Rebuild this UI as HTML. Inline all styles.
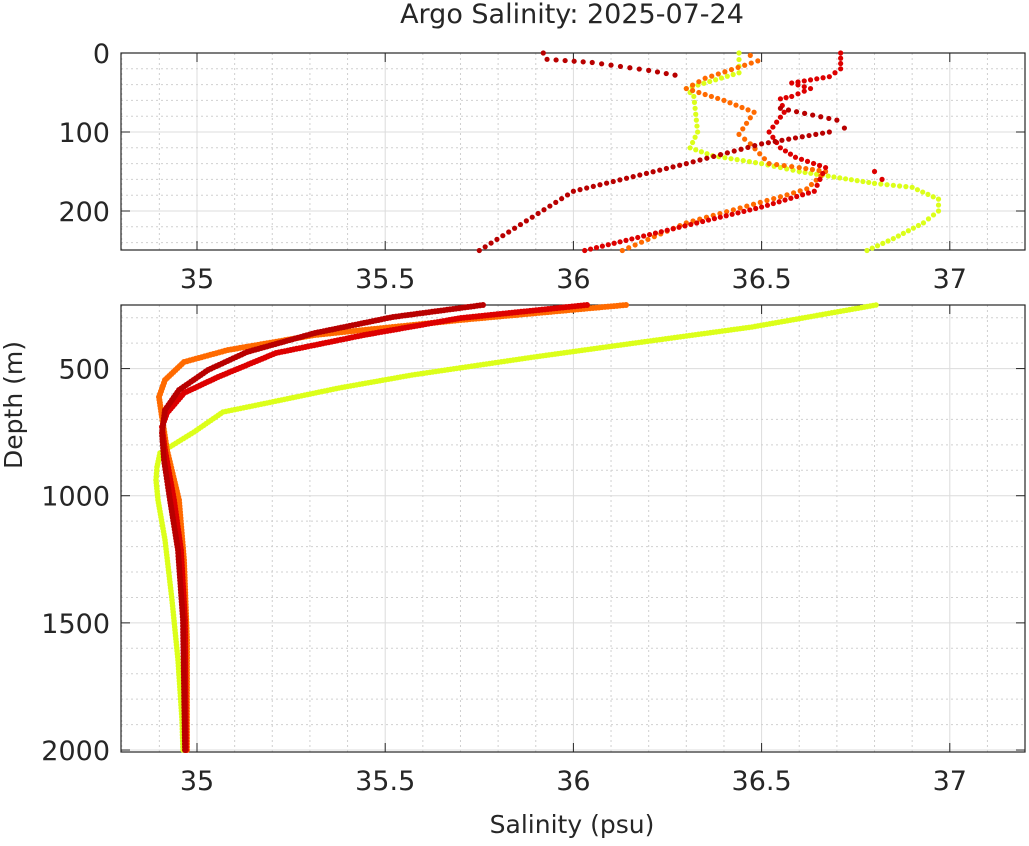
<!DOCTYPE html>
<html><head><meta charset="utf-8"><style>
body{margin:0;background:#fff}
svg text{font-family:"DejaVu Sans","Liberation Sans",sans-serif;fill:#262626}
</style></head><body>
<svg id="s" width="1029" height="841" xmlns="http://www.w3.org/2000/svg">
<text x="572" y="23" font-size="27" text-anchor="middle">Argo Salinity: 2025-07-24</text>
<text x="572" y="833" font-size="25" text-anchor="middle">Salinity (psu)</text>
<text transform="translate(22,405) rotate(-90)" font-size="25" text-anchor="middle">Depth (m)</text>
<g id="g"></g>
</svg>
<script>
const NS="http://www.w3.org/2000/svg",g=document.getElementById('g');
function el(t,a){const e=document.createElementNS(NS,t);for(const k in a)e.setAttribute(k,a[k]);g.appendChild(e);return e;}
const X=s=>197+(s-35)*376.4;
const L=121,R=1025;
const P1={t:53,b:250,y:d=>53+d*0.79,d0:0,d1:250};
const P2={t:305,b:752,y:d=>305+(d-250)*0.2543,d0:250,d1:2008};
function frame(P,maj,min,labels){
 for(let s=34.8;s<=37.21;s+=0.1){const x=X(s);const m=Math.abs(s*2-Math.round(s*2))<1e-6;
  el('line',{x1:x,x2:x,y1:P.t,y2:P.b,stroke:m?'#dcdcdc':'#d0d0d0','stroke-dasharray':m?'':'2,3','stroke-width':1});}
 for(let d=Math.ceil(P.d0/min)*min;d<=P.d1;d+=min){const y=P.y(d);const m=d%maj==0;
  el('line',{x1:L,x2:R,y1:y,y2:y,stroke:m?'#dcdcdc':'#d0d0d0','stroke-dasharray':m?'':'2,3','stroke-width':1});}
 el('rect',{x:L,y:P.t,width:R-L,height:P.b-P.t,fill:'none',stroke:'#262626','stroke-width':1.2});
 for(const s of [35,35.5,36,36.5,37]){const x=X(s);
  el('line',{x1:x,x2:x,y1:P.b,y2:P.b-9,stroke:'#262626'});el('line',{x1:x,x2:x,y1:P.t,y2:P.t+9,stroke:'#262626'});
  const t=el('text',{x:x,y:P.b+38,'font-size':27,'text-anchor':'middle'});t.textContent=s;}
 for(const d of labels){const y=P.y(d);el('line',{x1:L,x2:L+9,y1:y,y2:y,stroke:'#262626'});el('line',{x1:R,x2:R-9,y1:y,y2:y,stroke:'#262626'});
  const t=el('text',{x:L-11,y:y+10,'font-size':27,'text-anchor':'end'});t.textContent=d;}
}
frame(P1,100,20,[0,100,200]);
frame(P2,500,100,[500,1000,1500,2000]);
function dots(pts,c,step,r){
 for(let i=0;i<pts.length-1;i++){const [x0,y0]=pts[i],[x1,y1]=pts[i+1];
  const len=Math.hypot(x1-x0,y1-y0);const n=Math.max(1,Math.round(len/step));
  for(let k=0;k<n;k++){const f=k/n;el('circle',{cx:x0+(x1-x0)*f,cy:y0+(y1-y0)*f,r:r,fill:c});}}
 const [x,y]=pts[pts.length-1];el('circle',{cx:x,cy:y,r:r,fill:c});
}
function ser(P,pts,c,step,r){dots(pts.map(([s,d])=>[X(s),P.y(d)]),c,step,r);}
const DR='#b80000',RD='#dd0000',OR='#ff6a00',YE='#dcff1a';
// top panel
ser(P1,[[36.44,0],[36.44,25],[36.3,45],[36.32,55],[36.33,100],[36.31,120],[36.37,130],[36.5,140],[36.6,150],[36.8,165],[36.9,170],[36.97,185],[36.97,200],[36.93,215],[36.85,235],[36.78,250]],YE,6,2.6);
ser(P1,[[36.47,3],[36.49,10],[36.35,32],[36.3,45],[36.4,60],[36.48,75],[36.44,103],[36.47,115],[36.52,140],[36.6,145],[36.67,150],[36.62,172],[36.55,182],[36.3,215],[36.13,250]],OR,7,2.6);
ser(P1,[[36.71,0],[36.71,20],[36.68,30],[36.58,38],[36.63,45],[36.58,55],[36.55,58],[36.56,75],[36.52,100],[36.55,120],[36.59,132],[36.67,145],[36.64,175],[36.5,195],[36.03,250]],RD,6,2.6);
ser(P1,[[35.92,0],[35.93,8],[36.05,12],[36.2,22],[36.27,28]],DR,9,2.6);
ser(P1,[[36.55,70],[36.7,85],[36.72,95]],DR,8,2.6);
ser(P1,[[36.8,150],[36.82,160]],RD,8,2.6);
ser(P1,[[36.68,100],[36.5,115],[36.3,140],[36.0,175],[35.75,250]],DR,7,2.6);
// bottom panel (pixel coords)
dots([[876,305],[752,327],[606,347],[534,357],[412,375],[339,388],[267,403],[223,412],[194,432],[160,453],[157,467],[156,480],[158,500],[165,540],[172,600],[178,660],[182,720],[183,750]],YE,3,2.8);
dots([[626,305],[461,320],[315,335],[228,350],[184,362],[165,380],[159,397],[162,417],[167,450],[179,500],[184,560],[187,640],[187,750]],OR,3,3);
dots([[587,305],[461,318],[364,335],[276,353],[218,377],[184,393],[167,413],[162,427],[165,450],[174,500],[181,550],[185,620],[186,750]],RD,3,3);
dots([[483,305],[393,317],[315,333],[247,352],[208,370],[179,390],[165,410],[162,433],[164,460],[170,500],[178,550],[183,620],[185,750]],DR,3,3);
</script>
</body></html>
